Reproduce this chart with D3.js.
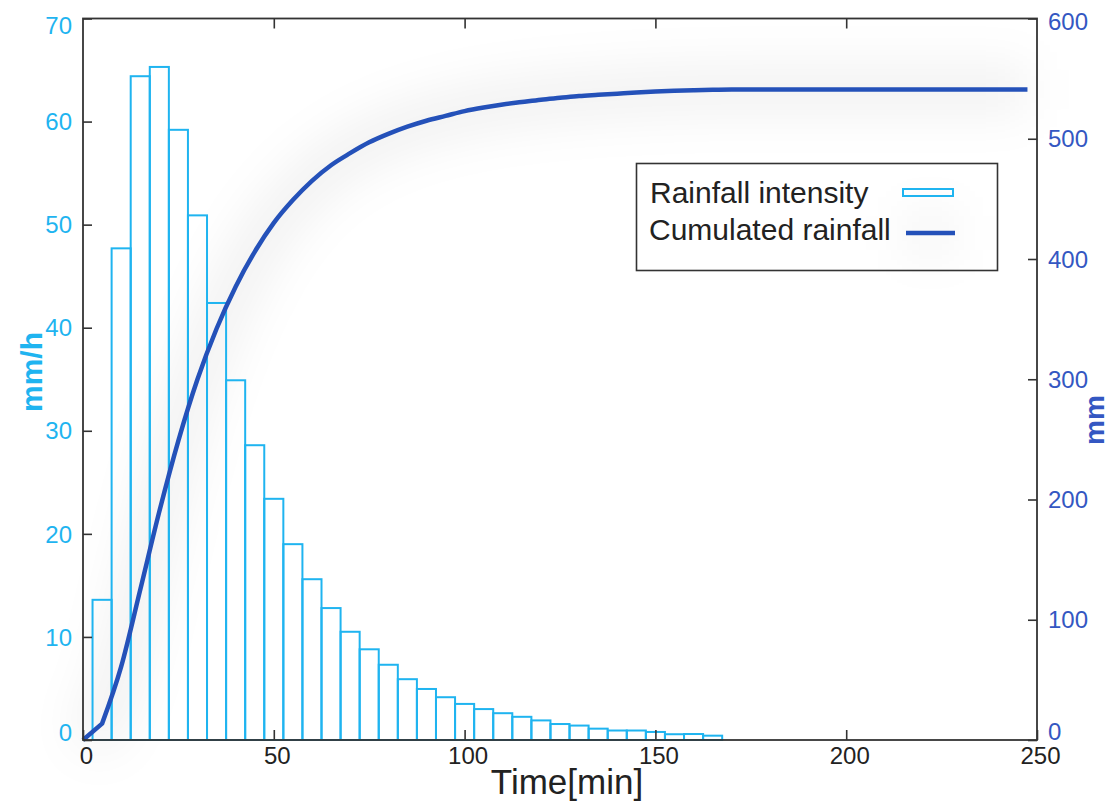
<!DOCTYPE html>
<html>
<head>
<meta charset="utf-8">
<script src="https://cdn.jsdelivr.net/npm/d3@7"></script>
<style>
  body { margin: 0; background: #fff; }
  svg { display: block; font-family: "Liberation Sans", Arial, sans-serif; }
</style>
</head>
<body>
<svg id="chart"></svg>
<script>
// bin centres [min] of the rainfall intensity histogram (5 min wide)
const binCentres = [5, 10, 15, 20, 25, 30, 35, 40, 45, 50, 55, 60, 65, 70, 75, 80,
  85, 90, 95, 100, 105, 110, 115, 120, 125, 130, 135, 140, 145, 150, 155, 160, 165];
// rainfall intensity [mm/h]
const intensity = [13.6, 47.7, 64.4, 65.3, 59.2, 50.9, 42.4, 34.9, 28.6, 23.4, 19.0, 15.6,
  12.8, 10.5, 8.8, 7.3, 5.9, 4.95, 4.15, 3.5, 3.0, 2.6, 2.25, 1.9, 1.55, 1.4, 1.1,
  0.92, 0.92, 0.78, 0.56, 0.58, 0.42];

// cumulated rainfall curve [mm]
const cumTime = [0, 5, 10, 15, 20, 25, 30, 35, 40, 45, 50, 55, 60, 65, 70, 75, 80, 85,
  90, 95, 100, 105, 110, 115, 120, 125, 130, 135, 140, 145, 150, 155, 160, 165, 170, 247.5];
const cumRain = [0, 13.6, 61, 125, 190, 249, 300, 342, 377, 406, 430, 449, 465, 478, 488,
  497, 504, 510, 515, 519, 523, 526, 528.5, 530.5, 532.5, 534, 535.5, 536.5, 537.5, 538.5,
  539.3, 539.9, 540.4, 540.8, 541, 541];

const xTicks = [0, 50, 100, 150, 200, 250];
const leftTicks = [0, 10, 20, 30, 40, 50, 60, 70];
const rightTicks = [0, 100, 200, 300, 400, 500, 600];

const width = 1111;
const height = 806;
const plotLeft = 83, plotRight = 1037, plotTop = 18.5, plotBottom = 740;

const barColor = "#1fb4f0";
const lineColor = "#2451b9";
const rightColor = "#3457c2";
const axisColor = "#333";

const x = d3.scaleLinear().domain([0, 250]).range([plotLeft, plotRight]);
const yL = d3.scaleLinear().domain([0, 70]).range([plotBottom, plotTop]);
const yR = d3.scaleLinear().domain([0, 600]).range([plotBottom, plotTop]);

const svg = d3.select("#chart")
  .attr("width", width)
  .attr("height", height);

const defs = svg.append("defs");
defs.append("filter")
  .attr("id", "haze")
  .attr("filterUnits", "userSpaceOnUse")
  .attr("x", 0).attr("y", 0).attr("width", width).attr("height", height)
  .append("feGaussianBlur")
  .attr("stdDeviation", 24);

// straight first segment, then a smooth curve through the rest
const points = cumRain.map((d, i) => [x(cumTime[i]), yR(d)]);
const smooth = d3.line().curve(d3.curveMonotoneX)(points.slice(1));
const curveD = `M${points[0][0]},${points[0][1]}L` + smooth.slice(1);

// soft grey haze along the curve
svg.append("path")
  .attr("d", curveD)
  .attr("fill", "none")
  .attr("stroke", "#000")
  .attr("stroke-opacity", 0.06)
  .attr("stroke-width", 44)
  .attr("filter", "url(#haze)");

// histogram bars
svg.append("g")
  .selectAll("rect")
  .data(intensity)
  .join("rect")
  .attr("x", (d, i) => x(binCentres[i] - 2.5))
  .attr("width", (d, i) => x(binCentres[i] + 2.5) - x(binCentres[i] - 2.5))
  .attr("y", d => yL(d))
  .attr("height", d => plotBottom - yL(d))
  .attr("fill", "none")
  .attr("stroke", barColor)
  .attr("stroke-width", 2);

// cumulated rainfall
svg.append("path")
  .attr("d", curveD)
  .attr("fill", "none")
  .attr("stroke", lineColor)
  .attr("stroke-width", 4.5)
  .attr("stroke-linejoin", "round");

// axes
const styleAxis = (g, color) => {
  g.select(".domain").remove();
  g.selectAll(".tick line").attr("stroke", axisColor).attr("stroke-width", 1.6);
  g.selectAll(".tick text")
    .attr("fill", color)
    .attr("font-size", 24)
    .attr("font-family", "Liberation Sans, Arial, sans-serif");
};

const xAxis = svg.append("g")
  .attr("transform", `translate(0,${plotBottom})`)
  .call(d3.axisBottom(x).tickValues(xTicks).tickSize(-10).tickPadding(7).tickFormat(d3.format("d")))
  .call(g => styleAxis(g, "#222"));
xAxis.selectAll(".tick text").attr("dx", 3);

svg.append("g")
  .attr("transform", `translate(0,${plotTop})`)
  .call(d3.axisTop(x).tickValues(xTicks.slice(1, -1)).tickSize(-10).tickFormat(""))
  .call(g => styleAxis(g, "#222"));

const yLeftAxis = svg.append("g")
  .attr("transform", `translate(${plotLeft},0)`)
  .call(d3.axisLeft(yL).tickValues(leftTicks).tickSize(-9).tickPadding(11).tickFormat(d3.format("d")))
  .call(g => styleAxis(g, barColor));
yLeftAxis.selectAll(".tick text")
  .attr("dy", d => d === 0 ? "0.0em" : d === 70 ? "0.63em" : "0.34em");

const yRightAxis = svg.append("g")
  .attr("transform", `translate(${plotRight},0)`)
  .call(d3.axisRight(yR).tickValues(rightTicks).tickSize(-9).tickPadding(11).tickFormat(d3.format("d")))
  .call(g => styleAxis(g, rightColor));
yRightAxis.selectAll(".tick text")
  .attr("dy", d => d === 0 ? "-0.03em" : d === 600 ? "0.45em" : "0.34em");

// frame
svg.append("rect")
  .attr("x", plotLeft).attr("y", plotTop)
  .attr("width", plotRight - plotLeft).attr("height", plotBottom - plotTop)
  .attr("fill", "none")
  .attr("stroke", axisColor)
  .attr("stroke-width", 1.8);

// axis titles
svg.append("text")
  .text("Time[min]")
  .attr("x", 567).attr("y", 794)
  .attr("text-anchor", "middle")
  .attr("font-size", 35)
  .attr("fill", "#222");

svg.append("text")
  .text("mm/h")
  .attr("transform", "translate(42,372) rotate(-90)")
  .attr("text-anchor", "middle")
  .attr("font-size", 30)
  .attr("font-weight", "bold")
  .attr("fill", barColor);

svg.append("text")
  .text("mm")
  .attr("transform", "translate(1104,420) rotate(-90)")
  .attr("text-anchor", "middle")
  .attr("font-size", 28)
  .attr("font-weight", "bold")
  .attr("fill", rightColor);

// legend
const legend = svg.append("g");
legend.append("rect")
  .attr("x", 636.5).attr("y", 163.5)
  .attr("width", 361).attr("height", 107)
  .attr("fill", "#fff")
  .attr("stroke", axisColor)
  .attr("stroke-width", 1.6);

legend.append("line")
  .attr("x1", 906).attr("x2", 955).attr("y1", 233).attr("y2", 233)
  .attr("stroke", "#000")
  .attr("stroke-opacity", 0.05)
  .attr("stroke-width", 40)
  .attr("filter", "url(#haze)");

legend.append("text")
  .text("Rainfall intensity")
  .attr("x", 650).attr("y", 203)
  .attr("font-size", 30)
  .attr("fill", "#222");
legend.append("text")
  .text("Cumulated rainfall")
  .attr("x", 649).attr("y", 240)
  .attr("font-size", 30)
  .attr("fill", "#222");

legend.append("rect")
  .attr("x", 903).attr("y", 189)
  .attr("width", 50).attr("height", 7)
  .attr("fill", "none")
  .attr("stroke", barColor)
  .attr("stroke-width", 2);
legend.append("line")
  .attr("x1", 906).attr("x2", 955).attr("y1", 233).attr("y2", 233)
  .attr("stroke", lineColor)
  .attr("stroke-width", 4.5);
</script>
</body>
</html>
